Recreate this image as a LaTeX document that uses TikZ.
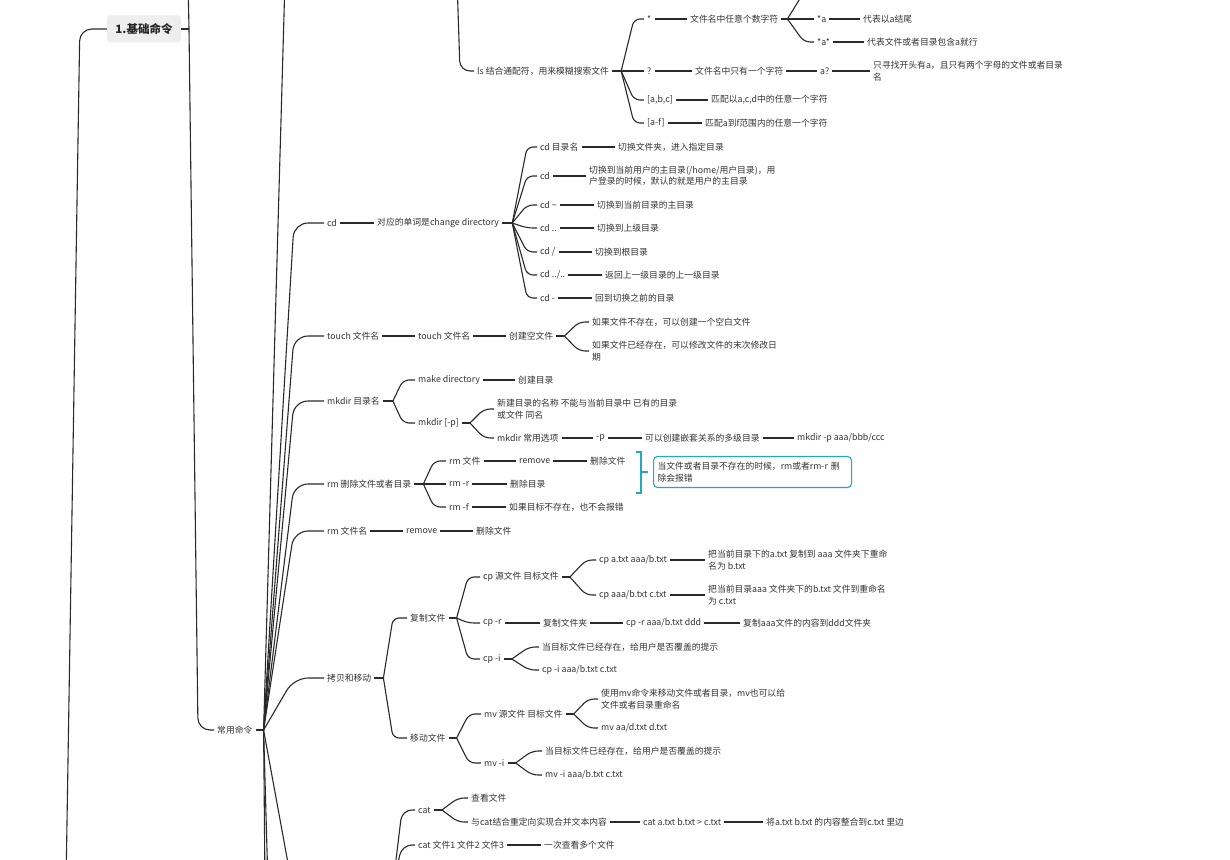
\documentclass[tikz,border=0pt]{standalone}
\usepackage{fontspec}
\setmainfont{Noto Sans CJK SC}
\definecolor{inkgray}{HTML}{333333}
\definecolor{linkgray}{HTML}{2A2A2A}
\definecolor{notecyan}{HTML}{22A8C2}
\definecolor{titlefill}{HTML}{EEEEEE}

\begin{document}
\begin{tikzpicture}[x=1pt,y=-1pt,
  txt/.style={anchor=west, inner xsep=3pt, inner ysep=1pt, text=inkgray, font=\fontsize{8.8}{11.5}\selectfont},
  wrap/.style={txt, align=left},
  link/.style={draw=linkgray, line width=1.1pt},
  fan/.style={link, rounded corners=6pt}]
\useasboundingbox (0,0) rectangle (1230,859);
\clip (0,0) rectangle (1230,859);

% title and the branches that leave the page
\node[fill=titlefill, rounded corners=3pt, minimum width=74pt, minimum height=27pt, text=black!85, font=\fontsize{11.5}{14}\selectfont\bfseries] (basic) at (144,29) {1.基础命令};
\coordinate (rootin) at (66,885);
\draw[link, rounded corners=12pt] (rootin) -- ([xshift=-27pt]basic.west) -- (basic.west);
\coordinate (basicj) at (189,29);
\coordinate (basicup) at (188,-20);
\draw[link] (basic.east) -- (basicj);
\draw[link] (basicj) -- (basicup);

\node[txt] (cmd) at (214,730) {常用命令};
\draw[link, rounded corners=12pt] (basicj) -- ([xshift=-16pt]cmd.west) -- (cmd.west);
\coordinate (cmdj) at ([xshift=8pt]cmd.east);
\draw[link] (cmd.east) -- (cmdj);
\coordinate (cmdup) at (285,-20);
\coordinate (cmddn1) at (265,885);
\coordinate (cmddn2) at (268,885);
\coordinate (cmddn3) at (292,885);
\draw[link] (cmdj) -- (cmdup);
\draw[link] (cmdj) -- (cmddn1);
\draw[link] (cmdj) -- (cmddn2);
\draw[link] (cmdj) -- (cmddn3);

% ls
\coordinate (lsup) at (457,-20);
\node[txt] (ls) at (474,71) {ls 结合通配符，用来模糊搜索文件};
\draw[link, rounded corners=10pt] (lsup) -- ([xshift=-14pt]ls.west) -- (ls.west);
\coordinate (lsj) at ([xshift=9pt]ls.east);
\draw[link] (ls.east) -- (lsj);
\node[txt] (star) at (644,19) {*};
\node[txt] (qmark) at (644,71) {?};
\node[txt] (abc) at (644,100) {[a,b,c]};
\node[txt] (atof) at (644,123) {[a-f]};
\draw[fan] (lsj) -- ([xshift=-10pt]star.west) -- (star.west);
\draw[fan] (lsj) -- (qmark.west);
\draw[fan] (lsj) -- ([xshift=-10pt]abc.west) -- (abc.west);
\draw[fan] (lsj) -- ([xshift=-10pt]atof.west) -- (atof.west);

\node[txt] (anychars) at (687,19) {文件名中任意个数字符};
\draw[link] (star.east) -- (anychars.west);
\coordinate (anyj) at ([xshift=6pt]anychars.east);
\draw[link] (anychars.east) -- (anyj);
\coordinate (anyup) at (804,-8);
\node[txt] (enda) at (814,19) {*a};
\node[txt] (hasa) at (814,42) {*a*};
\draw[fan] (anyj) -- (anyup);
\draw[fan] (anyj) -- (enda.west);
\draw[fan] (anyj) -- ([xshift=-10pt]hasa.west) -- (hasa.west);
\node[txt] (endadesc) at (860,19) {代表以a结尾};
\node[txt] (hasadesc) at (864,42) {代表文件或者目录包含a就行};
\draw[link] (enda.east) -- (endadesc.west);
\draw[link] (hasa.east) -- (hasadesc.west);

\node[txt] (onechar) at (692,71) {文件名中只有一个字符};
\node[txt] (aq) at (817,71) {a?};
\node[wrap] (aqdesc) at (870,71) {只寻找开头有a，且只有两个字母的文件或者目录\\名};
\draw[link] (qmark.east) -- (onechar.west);
\draw[link] (onechar.east) -- (aq.west);
\draw[link] (aq.east) -- (aqdesc.west);

\node[txt] (abcdesc) at (708,100) {匹配以a,c,d中的任意一个字符};
\node[txt] (atofdesc) at (702,123) {匹配a到f范围内的任意一个字符};
\draw[link] (abc.east) -- (abcdesc.west);
\draw[link] (atof.east) -- (atofdesc.west);

% cd
\node[txt] (cd) at (324,223) {cd};
\draw[link, rounded corners=14pt] (cmdj) -- ([xshift=-30pt]cd.west) -- (cd.west);
\node[txt] (cdword) at (374,223) {对应的单词是change directory};
\draw[link] (cd.east) -- (cdword.west);
\coordinate (cdj) at ([xshift=10pt]cdword.east);
\draw[link] (cdword.east) -- (cdj);
\node[txt] (cddir) at (537,147) {cd 目录名};
\node[txt] (cdhome) at (537,176) {cd};
\node[txt] (cdtilde) at (537,205) {cd \textasciitilde};
\node[txt] (cdup) at (537,228) {cd ..};
\node[txt] (cdroot) at (537,252) {cd /};
\node[txt] (cdupup) at (537,275) {cd ../..};
\node[txt] (cdback) at (537,298) {cd -};
\draw[fan] (cdj) -- ([xshift=-10pt]cddir.west) -- (cddir.west);
\draw[fan] (cdj) -- ([xshift=-10pt]cdhome.west) -- (cdhome.west);
\draw[fan] (cdj) -- ([xshift=-10pt]cdtilde.west) -- (cdtilde.west);
\draw[fan] (cdj) -- ([xshift=-10pt]cdup.west) -- (cdup.west);
\draw[fan] (cdj) -- ([xshift=-10pt]cdroot.west) -- (cdroot.west);
\draw[fan] (cdj) -- ([xshift=-10pt]cdupup.west) -- (cdupup.west);
\draw[fan] (cdj) -- ([xshift=-10pt]cdback.west) -- (cdback.west);
\node[txt] (cddirdesc) at (615,147) {切换文件夹，进入指定目录};
\node[wrap] (cdhomedesc) at (586,176) {切换到当前用户的主目录(/home/用户目录)，用\\户登录的时候，默认的就是用户的主目录};
\node[txt] (cdtildedesc) at (594,205) {切换到当前目录的主目录};
\node[txt] (cdupdesc) at (594,228) {切换到上级目录};
\node[txt] (cdrootdesc) at (592,252) {切换到根目录};
\node[txt] (cdupupdesc) at (602,275) {返回上一级目录的上一级目录};
\node[txt] (cdbackdesc) at (592,298) {回到切换之前的目录};
\draw[link] (cddir.east) -- (cddirdesc.west);
\draw[link] (cdhome.east) -- (cdhomedesc.west);
\draw[link] (cdtilde.east) -- (cdtildedesc.west);
\draw[link] (cdup.east) -- (cdupdesc.west);
\draw[link] (cdroot.east) -- (cdrootdesc.west);
\draw[link] (cdupup.east) -- (cdupupdesc.west);
\draw[link] (cdback.east) -- (cdbackdesc.west);

% touch
\node[txt] (touch) at (324,336) {touch 文件名};
\draw[link, rounded corners=14pt] (cmdj) -- ([xshift=-30pt]touch.west) -- (touch.west);
\node[txt] (touchcmd) at (415,336) {touch 文件名};
\node[txt] (touchnew) at (506,336) {创建空文件};
\draw[link] (touch.east) -- (touchcmd.west);
\draw[link] (touchcmd.east) -- (touchnew.west);
\coordinate (touchj) at ([xshift=8pt]touchnew.east);
\draw[link] (touchnew.east) -- (touchj);
\node[txt] (touchmiss) at (589,322) {如果文件不存在，可以创建一个空白文件};
\node[wrap] (touchhave) at (589,351) {如果文件已经存在，可以修改文件的末次修改日\\期};
\draw[fan] (touchj) -- ([xshift=-10pt]touchmiss.west) -- (touchmiss.west);
\draw[fan] (touchj) -- ([xshift=-10pt]touchhave.west) -- (touchhave.west);

% mkdir
\node[txt] (mkdir) at (324,401) {mkdir 目录名};
\draw[link, rounded corners=14pt] (cmdj) -- ([xshift=-30pt]mkdir.west) -- (mkdir.west);
\coordinate (mkdirj) at ([xshift=10pt]mkdir.east);
\draw[link] (mkdir.east) -- (mkdirj);
\node[txt] (makedir) at (415,380) {make directory};
\node[txt] (mkdirp) at (415,423) {mkdir [-p]};
\draw[fan] (mkdirj) -- ([xshift=-12pt]makedir.west) -- (makedir.west);
\draw[fan] (mkdirj) -- ([xshift=-12pt]mkdirp.west) -- (mkdirp.west);
\node[txt] (makedirdesc) at (515,380) {创建目录};
\draw[link] (makedir.east) -- (makedirdesc.west);
\coordinate (mkdirpj) at ([xshift=8pt]mkdirp.east);
\draw[link] (mkdirp.east) -- (mkdirpj);
\node[wrap] (mkname) at (494,409) {新建目录的名称 不能与当前目录中 已有的目录\\或文件 同名};
\node[txt] (mkopt) at (494,438) {mkdir 常用选项};
\draw[fan] (mkdirpj) -- ([xshift=-10pt]mkname.west) -- (mkname.west);
\draw[fan] (mkdirpj) -- ([xshift=-10pt]mkopt.west) -- (mkopt.west);
\node[txt] (mkp) at (593,438) {-p};
\node[txt] (mkpdesc) at (642,438) {可以创建嵌套关系的多级目录};
\node[txt] (mkpeg) at (794,438) {mkdir -p aaa/bbb/ccc};
\draw[link] (mkopt.east) -- (mkp.west);
\draw[link] (mkp.east) -- (mkpdesc.west);
\draw[link] (mkpdesc.east) -- (mkpeg.west);

% rm
\node[txt] (rmdir) at (324,484) {rm 删除文件或者目录};
\draw[link, rounded corners=14pt] (cmdj) -- ([xshift=-30pt]rmdir.west) -- (rmdir.west);
\coordinate (rmdirj) at ([xshift=9pt]rmdir.east);
\draw[link] (rmdir.east) -- (rmdirj);
\node[txt] (rmf) at (446,461) {rm 文件};
\node[txt] (rmr) at (446,484) {rm -r};
\node[txt] (rmff) at (446,507) {rm -f};
\draw[fan] (rmdirj) -- ([xshift=-12pt]rmf.west) -- (rmf.west);
\draw[fan] (rmdirj) -- (rmr.west);
\draw[fan] (rmdirj) -- ([xshift=-12pt]rmff.west) -- (rmff.west);
\node[txt] (rmfword) at (516,461) {remove};
\node[txt] (rmfdesc) at (587,461) {删除文件};
\node[txt] (rmrdesc) at (507,484) {删除目录};
\node[txt] (rmffdesc) at (506,507) {如果目标不存在，也不会报错};
\draw[link] (rmf.east) -- (rmfword.west);
\draw[link] (rmfword.east) -- (rmfdesc.west);
\draw[link] (rmr.east) -- (rmrdesc.west);
\draw[link] (rmff.east) -- (rmffdesc.west);

% summary bracket and note
\draw[notecyan, line width=1.1pt] (636,452) -- (641,452) -- (641,493) -- (636,493);
\coordinate (brk) at (641,472);
\node[draw=notecyan, line width=1.1pt, rounded corners=4pt, anchor=west, align=left, text width=190pt, inner xsep=4pt, minimum height=31pt, text=inkgray, font=\fontsize{8.8}{11.5}\selectfont] (note) at (653,472) {当文件或者目录不存在的时候，rm或者rm-r 删\\除会报错};
\draw[notecyan, line width=1.1pt] (brk) -- ([xshift=-5pt]note.west);

\node[txt] (rmfile) at (324,531) {rm 文件名};
\draw[link, rounded corners=14pt] (cmdj) -- ([xshift=-30pt]rmfile.west) -- (rmfile.west);
\node[txt] (rmfileword) at (403,531) {remove};
\node[txt] (rmfiledesc) at (473,531) {删除文件};
\draw[link] (rmfile.east) -- (rmfileword.west);
\draw[link] (rmfileword.east) -- (rmfiledesc.west);

% copy and move
\node[txt] (cpmv) at (324,678) {拷贝和移动};
\draw[link, rounded corners=14pt] (cmdj) -- ([xshift=-30pt]cpmv.west) -- (cpmv.west);
\coordinate (cpmvj) at ([xshift=9pt]cpmv.east);
\draw[link] (cpmv.east) -- (cpmvj);
\node[txt] (copy) at (407,618) {复制文件};
\node[txt] (move) at (407,738) {移动文件};
\draw[fan] (cpmvj) -- ([xshift=-14pt]copy.west) -- (copy.west);
\draw[fan] (cpmvj) -- ([xshift=-14pt]move.west) -- (move.west);

\coordinate (copyj) at ([xshift=8pt]copy.east);
\draw[link] (copy.east) -- (copyj);
\node[txt] (cpsrc) at (480,577) {cp 源文件 目标文件};
\node[txt] (cpr) at (480,623) {cp -r};
\node[txt] (cpi) at (480,659) {cp -i};
\draw[fan] (copyj) -- ([xshift=-12pt]cpsrc.west) -- (cpsrc.west);
\draw[fan] (copyj) -- ([xshift=-12pt]cpr.west) -- (cpr.west);
\draw[fan] (copyj) -- ([xshift=-12pt]cpi.west) -- (cpi.west);

\coordinate (cpsrcj) at ([xshift=8pt]cpsrc.east);
\draw[link] (cpsrc.east) -- (cpsrcj);
\node[txt] (cpab) at (596,560) {cp a.txt aaa/b.txt};
\node[txt] (cpbc) at (596,595) {cp aaa/b.txt c.txt};
\draw[fan] (cpsrcj) -- ([xshift=-10pt]cpab.west) -- (cpab.west);
\draw[fan] (cpsrcj) -- ([xshift=-10pt]cpbc.west) -- (cpbc.west);
\node[wrap] (cpabdesc) at (705,560) {把当前目录下的a.txt 复制到 aaa 文件夹下重命\\名为 b.txt};
\node[wrap] (cpbcdesc) at (705,595) {把当前目录aaa 文件夹下的b.txt 文件到重命名\\为 c.txt};
\draw[link] (cpab.east) -- (cpabdesc.west);
\draw[link] (cpbc.east) -- (cpbcdesc.west);

\node[txt] (cprdir) at (540,623) {复制文件夹};
\node[txt] (cprcmd) at (623,623) {cp -r aaa/b.txt ddd};
\node[txt] (cprdesc) at (740,623) {复制aaa文件的内容到ddd文件夹};
\draw[link] (cpr.east) -- (cprdir.west);
\draw[link] (cprdir.east) -- (cprcmd.west);
\draw[link] (cprcmd.east) -- (cprdesc.west);

\coordinate (cpij) at ([xshift=8pt]cpi.east);
\draw[link] (cpi.east) -- (cpij);
\node[txt] (cpiask) at (539,647) {当目标文件已经存在，给用户是否覆盖的提示};
\node[txt] (cpieg) at (539,670) {cp -i aaa/b.txt c.txt};
\draw[fan] (cpij) -- ([xshift=-10pt]cpiask.west) -- (cpiask.west);
\draw[fan] (cpij) -- ([xshift=-10pt]cpieg.west) -- (cpieg.west);

\coordinate (movej) at ([xshift=8pt]move.east);
\draw[link] (move.east) -- (movej);
\node[txt] (mvsrc) at (481,714) {mv 源文件 目标文件};
\node[txt] (mvi) at (481,763) {mv -i};
\draw[fan] (movej) -- ([xshift=-12pt]mvsrc.west) -- (mvsrc.west);
\draw[fan] (movej) -- ([xshift=-12pt]mvi.west) -- (mvi.west);

\coordinate (mvsrcj) at ([xshift=8pt]mvsrc.east);
\draw[link] (mvsrc.east) -- (mvsrcj);
\node[wrap] (mvuse) at (598,699) {使用mv命令来移动文件或者目录，mv也可以给\\文件或者目录重命名};
\node[txt] (mveg) at (598,728) {mv aa/d.txt d.txt};
\draw[fan] (mvsrcj) -- ([xshift=-10pt]mvuse.west) -- (mvuse.west);
\draw[fan] (mvsrcj) -- ([xshift=-10pt]mveg.west) -- (mveg.west);

\coordinate (mvij) at ([xshift=8pt]mvi.east);
\draw[link] (mvi.east) -- (mvij);
\node[txt] (mviask) at (542,751) {当目标文件已经存在，给用户是否覆盖的提示};
\node[txt] (mvieg) at (542,775) {mv -i aaa/b.txt c.txt};
\draw[fan] (mvij) -- ([xshift=-10pt]mviask.west) -- (mviask.west);
\draw[fan] (mvij) -- ([xshift=-10pt]mvieg.west) -- (mvieg.west);

% cat (its parent is below the page)
\coordinate (catin) at (393,885);
\node[txt] (cat) at (415,810) {cat};
\node[txt] (catmany) at (415,845) {cat 文件1 文件2 文件3};
\draw[link, rounded corners=10pt] (catin) -- ([xshift=-13pt]cat.west) -- (cat.west);
\draw[link, rounded corners=10pt] (catin) -- ([xshift=-13pt]catmany.west) -- (catmany.west);
\coordinate (catj) at ([xshift=8pt]cat.east);
\draw[link] (cat.east) -- (catj);
\node[txt] (catview) at (468,798) {查看文件};
\node[txt] (catjoin) at (468,822) {与cat结合重定向实现合并文本内容};
\draw[fan] (catj) -- ([xshift=-10pt]catview.west) -- (catview.west);
\draw[fan] (catj) -- ([xshift=-10pt]catjoin.west) -- (catjoin.west);
\node[txt] (catjoincmd) at (640,822) {cat a.txt b.txt > c.txt};
\node[txt] (catjoindesc) at (763,822) {将a.txt b.txt 的内容整合到c.txt 里边};
\draw[link] (catjoin.east) -- (catjoincmd.west);
\draw[link] (catjoincmd.east) -- (catjoindesc.west);
\node[txt] (catmanydesc) at (541,845) {一次查看多个文件};
\draw[link] (catmany.east) -- (catmanydesc.west);
\end{tikzpicture}
\end{document}
